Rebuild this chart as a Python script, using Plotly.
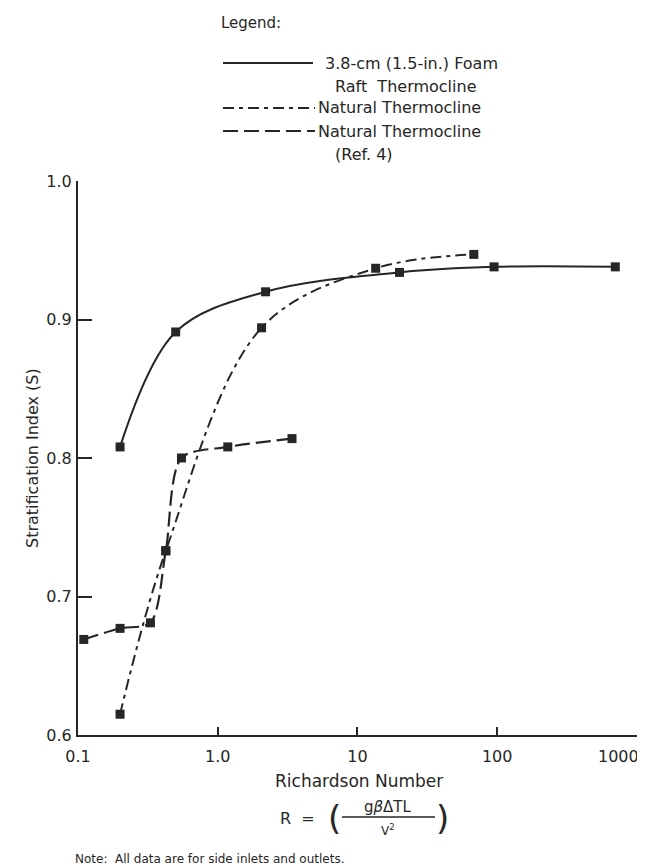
import math
import plotly.graph_objects as go

# ---- data ----
foam_x = [0.2, 0.5, 2.2, 20, 95, 700]
foam_y = [0.808, 0.891, 0.920, 0.934, 0.938, 0.938]

natural_x = [0.2, 0.425, 2.06, 13.5, 68]
natural_y = [0.615, 0.733, 0.894, 0.937, 0.947]

ref4_x = [0.11, 0.2, 0.33, 0.425, 0.55, 1.18, 3.4]
ref4_y = [0.669, 0.677, 0.681, 0.733, 0.800, 0.808, 0.814]

x_tickvals = [0.1, 1, 10, 100, 1000]
x_ticktext = ["0.1", "1.0", "10", "100", "1000"]
y_tickvals = [0.6, 0.7, 0.8, 0.9, 1.0]
y_ticktext = ["0.6", "0.7", "0.8", "0.9", "1.0"]

legend_labels = ["3.8-cm (1.5-in.) Foam", "Raft  Thermocline", "Natural Thermocline",
                 "Natural Thermocline", "(Ref. 4)"]

# ---- layout geometry (pixels) ----
W, H = 645, 866
L, R, T, B = 70, 16, 173, 139
PW, PH = W - L - R, H - T - B
INK = "#262626"
FONT = "DejaVu Sans, Liberation Sans, Arial, sans-serif"
DASH_NAT = "11px,5px,4px,5px"
DASH_REF = "15px,6px"


def px(x, y):
    return (x - L) / PW, (H - B - y) / PH


fig = go.Figure()

fig.add_trace(go.Scatter(x=foam_x, y=foam_y, mode="lines+markers",
                         line=dict(color=INK, width=2, shape="spline", smoothing=1.0),
                         marker=dict(symbol="square", size=9, color=INK),
                         showlegend=False))
fig.add_trace(go.Scatter(x=natural_x, y=natural_y, mode="lines+markers",
                         line=dict(color=INK, width=2, shape="spline", smoothing=1.0,
                                   dash=DASH_NAT),
                         marker=dict(symbol="square", size=9, color=INK),
                         showlegend=False))
fig.add_trace(go.Scatter(x=ref4_x, y=ref4_y, mode="lines+markers",
                         line=dict(color=INK, width=2.2, shape="spline", smoothing=0.8,
                                   dash=DASH_REF),
                         marker=dict(symbol="square", size=9, color=INK),
                         showlegend=False))

annotations = []
shapes = []


def text(x, y, s, size=15, anchor="left", angle=0):
    xp, yp = px(x, y)
    annotations.append(dict(x=xp, y=yp, xref="paper", yref="paper", text=s,
                            showarrow=False, xanchor=anchor, yanchor="middle",
                            textangle=angle, borderpad=0,
                            font=dict(family=FONT, size=size, color=INK)))


def hline(x0, x1, y, dash="solid", width=2):
    a0, b0 = px(x0, y)
    a1, _ = px(x1, y)
    shapes.append(dict(type="line", xref="paper", yref="paper", x0=a0, x1=a1,
                       y0=b0, y1=b0, line=dict(color=INK, width=width, dash=dash)))


# legend
text(212, 15, "Legend:", 15)
hline(215, 305, 55)
text(316, 55, legend_labels[0], 16)
text(326, 78, legend_labels[1], 16)
hline(215, 307, 100, DASH_NAT)
text(309, 100, legend_labels[2], 16)
hline(215, 307, 123, DASH_REF)
text(309, 123, legend_labels[3], 16)
text(326, 146, legend_labels[4], 16)

# y-axis title
text(24, 450, "Stratification Index (S)", 16, "center", -90)

# x-axis title and formula
text(351, 773, "Richardson Number", 17, "center")
text(289, 810, "R  =", 16, "center")
text(326, 810, "(", 34, "center")
text(434, 810, ")", 34, "center")
text(380, 799, "g<i>β</i>ΔTL", 15, "center")
hline(334, 427, 809, width=1.5)
text(380, 822, "V<sup>2</sup>", 12, "center")

# note
text(66, 851, "Note:  All data are for side inlets and outlets.", 12)

# last x tick label sits at the right edge: place it through the x axis, right-aligned
annotations.append(dict(x=math.log10(x_tickvals[-1]), y=0, xref="x", yref="paper",
                        text=x_ticktext[-1], showarrow=False, xanchor="right",
                        yanchor="top", xshift=3, yshift=-11, borderpad=0,
                        font=dict(family=FONT, size=16, color=INK)))

fig.update_layout(
    width=W, height=H,
    margin=dict(l=L, r=R, t=T, b=B, autoexpand=False),
    paper_bgcolor="white", plot_bgcolor="white",
    font=dict(family=FONT, size=15, color=INK),
    annotations=annotations, shapes=shapes,
    xaxis=dict(type="log", range=[-1, 3.0005], tickvals=x_tickvals[:-1],
               ticktext=x_ticktext[:-1],
               showline=True, linecolor=INK, linewidth=2, mirror=False,
               ticks="inside", ticklen=8, tickwidth=2, tickcolor=INK,
               minor=dict(tickvals=x_tickvals[-1:], ticks="inside", ticklen=8,
                          tickwidth=2, tickcolor=INK, showgrid=False),
               showgrid=False, zeroline=False, ticklabelstandoff=6,
               automargin=False,
               tickfont=dict(family=FONT, size=16, color=INK)),
    yaxis=dict(range=[0.6, 1.0], tickvals=y_tickvals, ticktext=y_ticktext,
               showline=True, linecolor=INK, linewidth=2, mirror=False,
               ticks="inside", ticklen=14, tickwidth=2, tickcolor=INK,
               showgrid=False, zeroline=False, ticklabelstandoff=1, automargin=False,
               tickfont=dict(family=FONT, size=16, color=INK)),
)

fig.write_html("out.html")
